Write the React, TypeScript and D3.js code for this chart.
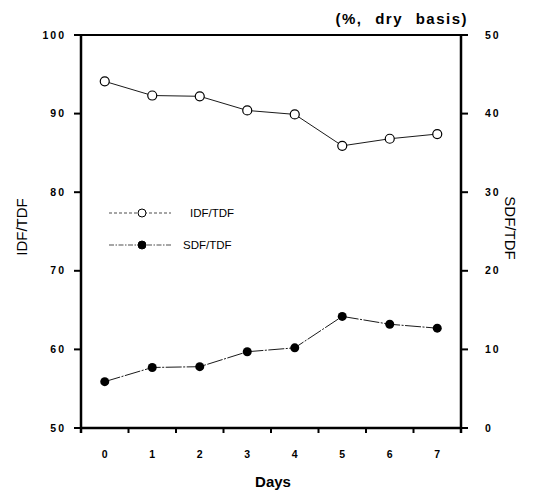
import { useEffect, useRef } from "react";
import * as d3 from "d3";

const days = ["0", "1", "2", "3", "4", "5", "6", "7"];
const idfTdf = [94.1, 92.3, 92.2, 90.4, 89.9, 85.9, 86.8, 87.4];
const sdfTdf = [5.9, 7.7, 7.8, 9.7, 10.2, 14.2, 13.2, 12.7];
const leftTicks = [50, 60, 70, 80, 90, 100];
const rightTicks = [0, 10, 20, 30, 40, 50];

export default function App() {
  const ref = useRef<SVGSVGElement>(null);

  useEffect(() => {
    const width = 535;
    const height = 491;
    const margin = { top: 35, right: 74, bottom: 63, left: 81 };
    const innerWidth = width - margin.left - margin.right;
    const innerHeight = height - margin.top - margin.bottom;

    const svg = d3.select(ref.current);
    svg.selectAll("*").remove();

    const g = svg
      .append("g")
      .attr("transform", `translate(${margin.left},${margin.top})`);

    const x = d3.scaleBand().domain(days).range([0, innerWidth]).padding(0);
    const yLeft = d3.scaleLinear().domain([50, 100]).range([innerHeight, 0]);
    const yRight = d3.scaleLinear().domain([0, 50]).range([innerHeight, 0]);
    const cx = (d: string) => (x(d) ?? 0) + x.bandwidth() / 2;

    const font = "'Liberation Sans', Arial, sans-serif";

    // frame
    g.append("line").attr("x1", 0).attr("x2", innerWidth).attr("y1", 0).attr("y2", 0)
      .attr("stroke", "#000").attr("stroke-width", 2);
    g.append("line").attr("x1", 0).attr("x2", innerWidth).attr("y1", innerHeight).attr("y2", innerHeight)
      .attr("stroke", "#000").attr("stroke-width", 2.5);
    g.append("line").attr("x1", 0).attr("x2", 0).attr("y1", -1).attr("y2", innerHeight + 5)
      .attr("stroke", "#000").attr("stroke-width", 2.5);
    g.append("line").attr("x1", innerWidth).attr("x2", innerWidth).attr("y1", -1).attr("y2", innerHeight + 5)
      .attr("stroke", "#000").attr("stroke-width", 2.5);

    // left axis
    const la = g.append("g");
    la.selectAll("line").data(leftTicks).join("line")
      .attr("x1", -7).attr("x2", 0)
      .attr("y1", (d) => yLeft(d)).attr("y2", (d) => yLeft(d))
      .attr("stroke", "#000").attr("stroke-width", 2);
    la.selectAll("text").data(leftTicks).join("text")
      .attr("x", -15).attr("y", (d) => yLeft(d))
      .attr("dy", "0.35em").attr("text-anchor", "end")
      .attr("font-family", font).attr("font-weight", "bold").attr("font-size", 10.5)
      .attr("letter-spacing", 2)
      .text((d) => d);

    // right axis
    const ra = g.append("g");
    ra.selectAll("line").data(rightTicks).join("line")
      .attr("x1", innerWidth).attr("x2", innerWidth + 7)
      .attr("y1", (d) => yRight(d)).attr("y2", (d) => yRight(d))
      .attr("stroke", "#000").attr("stroke-width", 2);
    ra.selectAll("text").data(rightTicks).join("text")
      .attr("x", innerWidth + 24).attr("y", (d) => yRight(d))
      .attr("dy", "0.35em").attr("text-anchor", "start")
      .attr("font-family", font).attr("font-weight", "bold").attr("font-size", 10.5)
      .attr("letter-spacing", 2)
      .text((d) => d);

    // bottom axis: ticks at band edges
    const edges = days.map((d) => x(d) ?? 0).slice(1);
    g.append("g").selectAll("line").data(edges).join("line")
      .attr("x1", (d) => d).attr("x2", (d) => d)
      .attr("y1", innerHeight).attr("y2", innerHeight + 5)
      .attr("stroke", "#000").attr("stroke-width", 2);
    g.append("g").selectAll("text").data(days).join("text")
      .attr("x", (d) => cx(d)).attr("y", innerHeight + 30)
      .attr("text-anchor", "middle")
      .attr("font-family", font).attr("font-weight", "bold").attr("font-size", 10.5)
      .text((d) => d);

    // lines
    const idfLine = d3.line<number>().x((_, i) => cx(days[i])).y((d) => yLeft(d));
    const sdfLine = d3.line<number>().x((_, i) => cx(days[i])).y((d) => yRight(d));

    g.append("path").attr("d", idfLine(idfTdf)).attr("fill", "none")
      .attr("stroke", "#000").attr("stroke-width", 0.9);
    g.append("path").attr("d", sdfLine(sdfTdf)).attr("fill", "none")
      .attr("stroke", "#000").attr("stroke-width", 0.9).attr("stroke-dasharray", "16,1.5,2,1.5");

    g.append("g").selectAll("circle").data(idfTdf).join("circle")
      .attr("cx", (_, i) => cx(days[i])).attr("cy", (d) => yLeft(d)).attr("r", 4.5)
      .attr("fill", "#fff").attr("stroke", "#000").attr("stroke-width", 1.2);
    g.append("g").selectAll("circle").data(sdfTdf).join("circle")
      .attr("cx", (_, i) => cx(days[i])).attr("cy", (d) => yRight(d)).attr("r", 4.5)
      .attr("fill", "#000");

    // legend
    const legend = svg.append("g");
    const items = [
      { label: "IDF/TDF", filled: false, y: 213, dash: "3,2", textX: 190 },
      { label: "SDF/TDF", filled: true, y: 245, dash: "5,1.5,1.5,1.5", textX: 183 },
    ];
    items.forEach((it) => {
      legend.append("line").attr("x1", 109).attr("x2", 171)
        .attr("y1", it.y).attr("y2", it.y)
        .attr("stroke", "#000").attr("stroke-width", 0.7).attr("stroke-dasharray", it.dash);
      legend.append("circle").attr("cx", 142).attr("cy", it.y).attr("r", 4)
        .attr("fill", it.filled ? "#000" : "#fff").attr("stroke", "#000").attr("stroke-width", 1);
      legend.append("text").attr("x", it.textX).attr("y", it.y).attr("dy", "0.35em")
        .attr("font-family", font).attr("font-size", 11.5).text(it.label);
    });

    // axis titles
    svg.append("text").attr("transform", "translate(27,227) rotate(-90)")
      .attr("text-anchor", "middle").attr("font-family", font).attr("font-size", 15)
      .text("IDF/TDF");
    svg.append("text").attr("transform", "translate(505,228) rotate(90)")
      .attr("text-anchor", "middle").attr("font-family", font).attr("font-size", 15)
      .text("SDF/TDF");
    svg.append("text").attr("x", 273).attr("y", 487)
      .attr("text-anchor", "middle").attr("font-family", font).attr("font-weight", "bold")
      .attr("font-size", 15).text("Days");
    svg.append("text").attr("x", 468).attr("y", 24)
      .attr("text-anchor", "end").attr("font-family", font).attr("font-weight", "bold")
      .attr("font-size", 15).attr("letter-spacing", 1.5).attr("word-spacing", 7)
      .text("(%, dry basis)");
  }, []);

  return (
    <svg
      ref={ref}
      width={535}
      height={491}
      style={{ position: "absolute", left: 0, top: 0, background: "#fff" }}
    ></svg>
  );
}
